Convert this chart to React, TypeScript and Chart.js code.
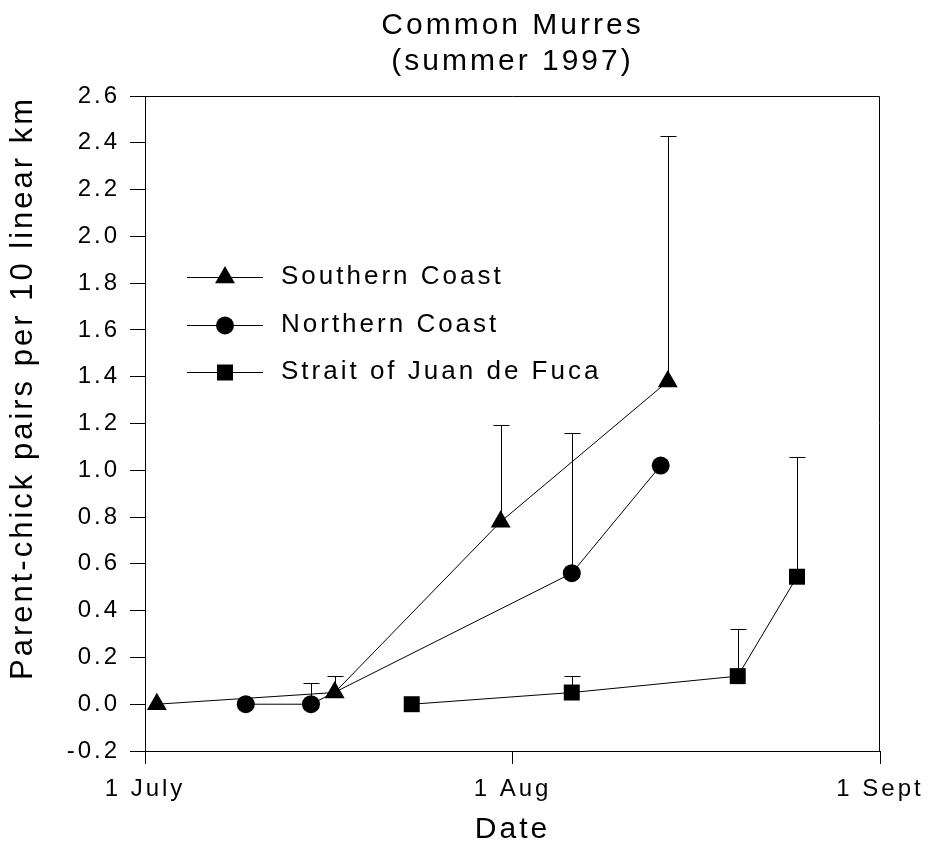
import React, { useEffect, useRef } from 'react';
import { Chart, registerables } from 'chart.js';

Chart.register(...registerables);

// ---------- data ----------
const chartTitle = ['Common Murres', '(summer 1997)'];
const xAxisTitle = 'Date';
const yAxisTitle = 'Parent-chick pairs per 10 linear km';

// x = days after 1 July
const xTickValues = [0, 31, 62];
const xTickLabels = ['1 July', '1 Aug', '1 Sept'];
const yTickValues = [-0.2, 0.0, 0.2, 0.4, 0.6, 0.8, 1.0, 1.2, 1.4, 1.6, 1.8, 2.0, 2.2, 2.4, 2.6];

const seriesNames = ['Southern Coast', 'Northern Coast', 'Strait of Juan de Fuca'];

const southDays = [1.0, 16.0, 30.0, 44.1];
const southValues = [0.0, 0.05, 0.78, 1.38];
const southErrTop = [null, 0.12, 1.195, 2.43];

const northDays = [8.5, 14.0, 36.0, 43.5];
const northValues = [0.0, 0.0, 0.56, 1.02];
const northErrTop = [null, 0.09, 1.16, null];

const straitDays = [22.5, 36.0, 50.0, 55.0];
const straitValues = [0.0, 0.05, 0.12, 0.545];
const straitErrTop = [null, 0.12, 0.32, 1.055];

// ---------- styling ----------
const FONT = '"Liberation Sans", Arial, Helvetica, sans-serif';
const LETTER_SPACING = '3px';
const INK = '#000';

const spacingPlugin = {
  id: 'letterSpacing',
  beforeLayout(chart: any) {
    (chart.ctx as any).letterSpacing = LETTER_SPACING;
  },
  beforeDraw(chart: any) {
    (chart.ctx as any).letterSpacing = LETTER_SPACING;
  },
};

function drawMarker(ctx: CanvasRenderingContext2D, style: string, r: number, x: number, y: number) {
  ctx.beginPath();
  if (style === 'triangle') {
    ctx.moveTo(x, y - r);
    ctx.lineTo(x + 0.8660254 * r, y + 0.5 * r);
    ctx.lineTo(x - 0.8660254 * r, y + 0.5 * r);
    ctx.closePath();
  } else if (style === 'rect') {
    const s = r * Math.SQRT1_2;
    ctx.rect(x - s, y - s, 2 * s, 2 * s);
  } else {
    ctx.arc(x, y, r, 0, Math.PI * 2);
  }
  ctx.fill();
}

const errorBarPlugin = {
  id: 'errorBars',
  beforeDatasetsDraw(chart: any) {
    const { ctx, scales } = chart;
    const xs = scales.x;
    const ys = scales.y;
    ctx.save();
    ctx.strokeStyle = INK;
    ctx.lineWidth = 1;
    chart.data.datasets.forEach((ds: any) => {
      const err = ds.errTop as (number | null)[];
      ds.data.forEach((p: any, i: number) => {
        const top = err[i];
        if (top === null || top === undefined) return;
        const px = Math.round(xs.getPixelForValue(p.x)) + 0.5;
        const py = ys.getPixelForValue(p.y);
        const pt = Math.round(ys.getPixelForValue(top)) + 0.5;
        ctx.beginPath();
        ctx.moveTo(px, py);
        ctx.lineTo(px, pt);
        ctx.moveTo(px - 8, pt);
        ctx.lineTo(px + 8, pt);
        ctx.stroke();
      });
    });
    ctx.restore();
  },
};

const framePlugin = {
  id: 'frame',
  afterDraw(chart: any) {
    const { ctx, chartArea } = chart;
    ctx.save();
    ctx.strokeStyle = INK;
    ctx.lineWidth = 1;
    ctx.beginPath();
    const t = Math.round(chartArea.top) + 0.5;
    const r = Math.round(chartArea.right) - 0.5;
    ctx.moveTo(Math.round(chartArea.left), t);
    ctx.lineTo(r, t);
    ctx.lineTo(r, Math.round(chartArea.bottom));
    ctx.stroke();
    ctx.restore();
  },
};

const legendPlugin = {
  id: 'insideLegend',
  afterDraw(chart: any) {
    const { ctx, chartArea } = chart;
    const rowY = [277, 325, 372];
    const lineX0 = chartArea.left + 42;
    const lineX1 = chartArea.left + 118;
    const markX = chartArea.left + 80;
    const textX = chartArea.left + 136;
    ctx.save();
    (ctx as any).letterSpacing = LETTER_SPACING;
    ctx.font = `26px ${FONT}`;
    ctx.textBaseline = 'middle';
    ctx.textAlign = 'left';
    chart.data.datasets.forEach((ds: any, i: number) => {
      const y = rowY[i];
      ctx.strokeStyle = INK;
      ctx.lineWidth = 1;
      ctx.beginPath();
      ctx.moveTo(lineX0, Math.round(y) + 0.5);
      ctx.lineTo(lineX1, Math.round(y) + 0.5);
      ctx.stroke();
      ctx.fillStyle = INK;
      drawMarker(ctx, ds.pointStyle, ds.pointRadius, markX, y + 0.5);
      ctx.fillText(ds.label, textX, y);
    });
    ctx.restore();
  },
};

function makeSeries(label: string, days: number[], values: number[], err: (number | null)[], style: string, radius: number) {
  return {
    label,
    data: days.map((d, i) => ({ x: d, y: values[i] })),
    errTop: err,
    borderColor: INK,
    borderWidth: 1,
    backgroundColor: INK,
    pointStyle: style,
    pointRadius: radius,
    pointBackgroundColor: INK,
    pointBorderColor: INK,
    pointBorderWidth: 0,
    pointHoverRadius: radius,
    tension: 0,
    fill: false,
    clip: false,
  };
}

export default function App() {
  const canvasRef = useRef<HTMLCanvasElement | null>(null);

  useEffect(() => {
    if (!canvasRef.current) return;
    const tickFont = { family: FONT, size: 24, weight: 'normal' as const };
    const titleFont = { family: FONT, size: 30, weight: 'normal' as const, lineHeight: 1.2 };
    const yTitleFont = { family: FONT, size: 31, weight: 'normal' as const, lineHeight: 1.2 };

    const chart = new Chart(canvasRef.current, {
      type: 'line',
      data: {
        datasets: [
          makeSeries(seriesNames[0], southDays, southValues, southErrTop, 'triangle', 11.5),
          makeSeries(seriesNames[1], northDays, northValues, northErrTop, 'circle', 9),
          makeSeries(seriesNames[2], straitDays, straitValues, straitErrTop, 'rect', 11.3),
        ] as any,
      },
      options: {
        animation: false,
        responsive: true,
        maintainAspectRatio: false,
        devicePixelRatio: 1,
        events: [],
        layout: { padding: { left: 0, right: 48, top: 0, bottom: 0 } },
        plugins: {
          legend: { display: false },
          tooltip: { enabled: false },
          title: {
            display: true,
            text: chartTitle,
            fullSize: false,
            color: INK,
            font: titleFont,
            padding: { top: 8, bottom: 16 },
          },
        },
        scales: {
          x: {
            type: 'linear',
            min: xTickValues[0],
            max: xTickValues[xTickValues.length - 1],
            afterBuildTicks: (s: any) => {
              s.ticks = xTickValues.map((v) => ({ value: v }));
            },
            afterFit: (s: any) => {
              s.height = 106;
              s.paddingLeft = 0;
              s.paddingRight = 0;
            },
            ticks: {
              autoSkip: false,
              maxRotation: 0,
              padding: 11,
              color: INK,
              font: tickFont,
              callback: (v: any) => {
                const i = xTickValues.indexOf(Number(v));
                return i >= 0 ? xTickLabels[i] : '';
              },
            },
            grid: { drawOnChartArea: false, tickLength: 13, color: INK, tickWidth: 1 },
            border: { display: true, color: INK, width: 1 },
            title: {
              display: true,
              text: xAxisTitle,
              color: INK,
              font: titleFont,
              padding: { top: 0, bottom: 9 },
            },
          },
          y: {
            type: 'linear',
            min: yTickValues[0],
            max: yTickValues[yTickValues.length - 1],
            afterBuildTicks: (s: any) => {
              s.ticks = yTickValues.map((v) => ({ value: v }));
            },
            afterFit: (s: any) => {
              s.width = 145;
              s.paddingTop = 0;
              s.paddingBottom = 0;
            },
            ticks: {
              padding: 10,
              color: INK,
              font: tickFont,
              callback: (v: any) => Number(v).toFixed(1),
            },
            grid: { drawOnChartArea: false, tickLength: 15, color: INK, tickWidth: 1 },
            border: { display: true, color: INK, width: 1 },
            title: {
              display: true,
              text: yAxisTitle,
              align: 'end',
              color: INK,
              font: yTitleFont,
              padding: { top: 5, bottom: 0 },
            },
          },
        },
      } as any,
      plugins: [spacingPlugin, errorBarPlugin, framePlugin, legendPlugin],
    });

    return () => {
      chart.destroy();
    };
  }, []);

  return (
    <div style={{ position: 'absolute', left: 0, top: 0, width: 928, height: 857, background: '#fff' }}>
      <canvas ref={canvasRef} />
    </div>
  );
}
